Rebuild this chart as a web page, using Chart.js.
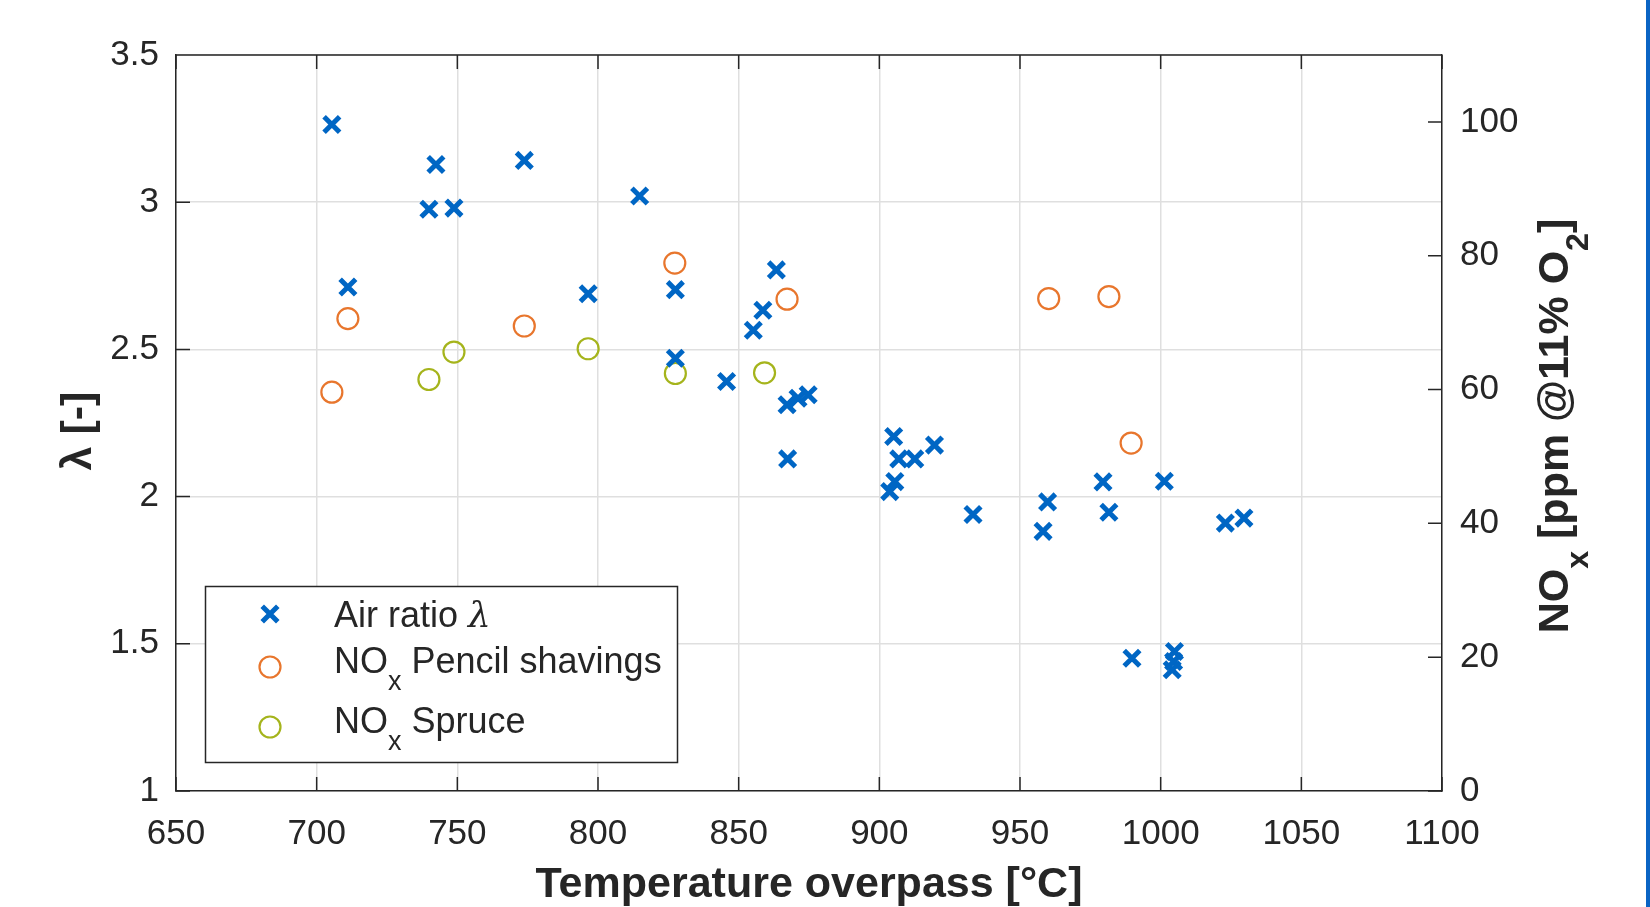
<!DOCTYPE html>
<html>
<head>
<meta charset="utf-8">
<script src="https://cdn.jsdelivr.net/npm/chart.js@4.4.1/dist/chart.umd.min.js"></script>
<style>
html, body { margin: 0; padding: 0; background: #fff; }
#wrap { position: relative; width: 1650px; height: 907px; overflow: hidden; }
#edge { position: absolute; left: 1646px; top: 0; width: 4px; height: 907px; background: #0a64c4; }
</style>
</head>
<body>
<div id="wrap">
  <canvas id="noxChart" width="1650" height="907"></canvas>
  <div id="edge"></div>
</div>
<script>
// air ratio (left axis)
const airTemp = [705.4, 711.1, 739.9, 742.4, 748.8, 773.8, 796.5, 814.8, 827.5, 827.5,
                 845.7, 855.2, 858.6, 863.4, 867.2, 871.1, 874.7, 867.4, 905.1, 906.9,
                 912.6, 919.6, 903.7, 905.5, 933.3, 958.2, 959.8, 979.5, 981.6, 1001.3,
                 989.8, 1004.9, 1004.6, 1004.1, 1023.0, 1029.6];
const airLambda = [3.264, 2.712, 2.976, 3.128, 2.980, 3.142, 2.689, 3.021, 2.703, 2.470,
                   2.391, 2.565, 2.633, 2.770, 2.312, 2.334, 2.346, 2.128, 2.204, 2.128,
                   2.128, 2.175, 2.017, 2.051, 1.939, 1.882, 1.982, 2.050, 1.947, 2.052,
                   1.451, 1.474, 1.440, 1.412, 1.910, 1.927];

// NOx, pencil shavings (right axis)
const pencilTemp = [705.4, 711.1, 773.8, 827.3, 867.2, 960.2, 981.6, 989.5];
const pencilNox = [59.6, 70.6, 69.5, 78.9, 73.5, 73.6, 73.9, 52.0];

// NOx, spruce (right axis)
const spruceTemp = [739.9, 748.8, 796.5, 827.5, 859.2];
const spruceNox = [61.5, 65.6, 66.1, 62.4, 62.5];

// axes
const xTicks = [650, 700, 750, 800, 850, 900, 950, 1000, 1050, 1100];
const lambdaTicks = [1, 1.5, 2, 2.5, 3, 3.5];
const noxTicks = [0, 20, 40, 60, 80, 100];

const BLUE = '#0066c4';
const ORANGE = '#e8762d';
const GREEN = '#a5b41c';
const AXIS = '#262626';
const GRID = '#dfdfdf';
const FONT = "'Liberation Sans', Arial, Helvetica, sans-serif";

function pts(xs, ys) {
    return xs.map((x, i) => ({ x: x, y: ys[i] }));
}

// text with subscripts: parts = [[text, isSub, fontStyle], ...]
function partsWidth(ctx, parts, size, weight) {
    let w = 0;
    parts.forEach(p => {
        ctx.font = weight + ' ' + (p[1] ? size * 0.75 : size) + 'px ' + FONT;
        w += ctx.measureText(p[0]).width;
    });
    return w;
}
function drawParts(ctx, parts, x, y, size, weight) {
    ctx.textAlign = 'left';
    ctx.textBaseline = 'alphabetic';
    parts.forEach(p => {
        const s = p[1] ? size * 0.75 : size;
        const fam = p[2] ? "'DejaVu Serif', 'Liberation Serif', serif" : FONT;
        ctx.font = (p[2] || weight) + ' ' + s + 'px ' + fam;
        ctx.fillText(p[0], x, p[1] ? y + size * 0.46 : y);
        x += ctx.measureText(p[0]).width;
    });
}

function cross(ctx, x, y, r, w) {
    const d = r * Math.SQRT1_2;
    ctx.save();
    ctx.strokeStyle = BLUE;
    ctx.lineWidth = w;
    ctx.beginPath();
    ctx.moveTo(x - d, y - d); ctx.lineTo(x + d, y + d);
    ctx.moveTo(x + d, y - d); ctx.lineTo(x - d, y + d);
    ctx.stroke();
    ctx.restore();
}
function ring(ctx, x, y, r, color) {
    ctx.save();
    ctx.strokeStyle = color;
    ctx.lineWidth = 2.2;
    ctx.beginPath();
    ctx.arc(x, y, r, 0, Math.PI * 2);
    ctx.stroke();
    ctx.restore();
}

const matlabLook = {
    id: 'matlabLook',
    afterDraw(chart) {
        const ctx = chart.ctx;
        const a = chart.chartArea;
        const sx = chart.scales.x, sy = chart.scales.y, sy2 = chart.scales.y2;
        const tl = 14;

        // box and inward ticks
        ctx.save();
        ctx.strokeStyle = AXIS;
        ctx.lineWidth = 1.5;
        ctx.beginPath();
        ctx.moveTo(a.left, a.top); ctx.lineTo(a.right, a.top);
        xTicks.forEach(v => {
            const px = sx.getPixelForValue(v);
            ctx.moveTo(px, a.bottom); ctx.lineTo(px, a.bottom - tl);
            ctx.moveTo(px, a.top); ctx.lineTo(px, a.top + tl);
        });
        lambdaTicks.forEach(v => {
            const py = sy.getPixelForValue(v);
            ctx.moveTo(a.left, py); ctx.lineTo(a.left + tl, py);
        });
        noxTicks.forEach(v => {
            const py = sy2.getPixelForValue(v);
            ctx.moveTo(a.right, py); ctx.lineTo(a.right - tl, py);
        });
        ctx.stroke();

        // axis titles
        ctx.fillStyle = AXIS;
        ctx.font = 'bold 43px ' + FONT;
        ctx.textAlign = 'center';
        ctx.textBaseline = 'alphabetic';
        ctx.fillText('Temperature overpass [°C]', (a.left + a.right) / 2, 897);

        ctx.save();
        ctx.translate(91, (a.top + a.bottom) / 2 + 8);
        ctx.rotate(-Math.PI / 2);
        ctx.fillText('λ [-]', 0, 0);
        ctx.restore();

        const rt = [['NO', 0], ['x', 1], [' [ppm @11% O', 0], ['2', 1], [']', 0]];
        ctx.save();
        ctx.translate(1568, 426);
        ctx.rotate(-Math.PI / 2);
        const w = partsWidth(ctx, rt, 43, 'bold');
        drawParts(ctx, rt, -w / 2, 0, 43, 'bold');
        ctx.restore();

        // legend
        const lx = 205.5, ly = 586.5, lw = 472, lh = 176;
        ctx.fillStyle = '#fff';
        ctx.fillRect(lx, ly, lw, lh);
        ctx.strokeStyle = AXIS;
        ctx.lineWidth = 1.5;
        ctx.strokeRect(lx, ly, lw, lh);

        cross(ctx, 270, 614, 11, 5);
        ring(ctx, 270, 667, 10.5, ORANGE);
        ring(ctx, 270, 727, 10.5, GREEN);

        ctx.fillStyle = AXIS;
        drawParts(ctx, [['Air ratio ', 0], ['λ', 0, 'italic']], 334, 627, 36, 'normal');
        drawParts(ctx, [['NO', 0], ['x', 1], [' Pencil shavings', 0]], 334, 673, 36, 'normal');
        drawParts(ctx, [['NO', 0], ['x', 1], [' Spruce', 0]], 334, 733, 36, 'normal');
        ctx.restore();
    }
};

const tickFont = { family: FONT, size: 35 };

const ctx = document.getElementById('noxChart').getContext('2d');
const noxChart = new Chart(ctx, {
    type: 'scatter',
    data: {
        datasets: [
            {
                label: 'Air ratio λ',
                data: pts(airTemp, airLambda),
                yAxisID: 'y',
                pointStyle: 'crossRot',
                pointRadius: 11,
                borderWidth: 5,
                borderColor: BLUE,
                backgroundColor: BLUE
            },
            {
                label: 'NOx Pencil shavings',
                data: pts(pencilTemp, pencilNox),
                yAxisID: 'y2',
                pointStyle: 'circle',
                pointRadius: 10.5,
                borderWidth: 2.2,
                borderColor: ORANGE,
                backgroundColor: 'rgba(0,0,0,0)'
            },
            {
                label: 'NOx Spruce',
                data: pts(spruceTemp, spruceNox),
                yAxisID: 'y2',
                pointStyle: 'circle',
                pointRadius: 10.5,
                borderWidth: 2.2,
                borderColor: GREEN,
                backgroundColor: 'rgba(0,0,0,0)'
            }
        ]
    },
    options: {
        responsive: false,
        animation: false,
        events: [],
        devicePixelRatio: 1,
        layout: { padding: { top: 55, left: 0, right: 0, bottom: 0 } },
        plugins: { legend: { display: false }, tooltip: { enabled: false } },
        scales: {
            x: {
                type: 'linear',
                min: 650,
                max: 1100,
                afterBuildTicks: s => { s.ticks = xTicks.map(v => ({ value: v })); },
                afterFit: s => { s.height = 116; },
                grid: { color: GRID, lineWidth: 1.5, drawTicks: false },
                border: { color: AXIS, width: 1.5 },
                ticks: {
                    color: AXIS, font: tickFont, padding: 22, maxRotation: 0, autoSkip: false,
                    callback: v => String(v)
                }
            },
            y: {
                type: 'linear',
                position: 'left',
                min: 1,
                max: 3.5,
                afterBuildTicks: s => { s.ticks = lambdaTicks.map(v => ({ value: v })); },
                afterFit: s => { s.width = 176; },
                grid: { color: GRID, lineWidth: 1.5, drawTicks: false },
                border: { color: AXIS, width: 1.5 },
                ticks: { color: AXIS, font: tickFont, padding: 17, callback: v => String(v) }
            },
            y2: {
                type: 'linear',
                position: 'right',
                min: 0,
                max: 110,
                afterBuildTicks: s => { s.ticks = noxTicks.map(v => ({ value: v })); },
                afterFit: s => { s.width = 208; },
                grid: { display: false, drawTicks: false },
                border: { color: AXIS, width: 1.5 },
                ticks: { color: AXIS, font: tickFont, padding: 18, callback: v => String(v) }
            }
        }
    },
    plugins: [matlabLook]
});
</script>
</body>
</html>
